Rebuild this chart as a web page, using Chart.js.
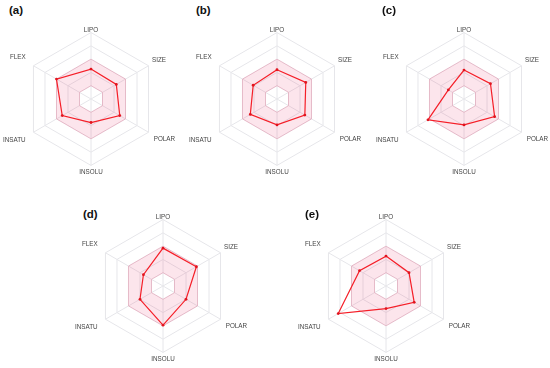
<!DOCTYPE html>
<html>
<head>
<meta charset="utf-8">
<script src="https://cdn.jsdelivr.net/npm/chart.js@4.4.1/dist/chart.umd.min.js"></script>
<style>
  html, body { margin: 0; padding: 0; background: #ffffff; }
  body { width: 550px; height: 368px; position: relative; overflow: hidden; }
  .panel { position: absolute; width: 200px; height: 154px; }
  .ttl { position: absolute; font: bold 11.5px "Liberation Sans", Arial, sans-serif; line-height: 1; color: #111; }
</style>
</head>
<body>
<script>
// ---- data ----
const axisLabels = ['LIPO', 'SIZE', 'POLAR', 'INSOLU', 'INSATU', 'FLEX'];
const panelTitles = ['(a)', '(b)', '(c)', '(d)', '(e)'];
const valuesA = [2.25, 2.2, 2.5, 1.77, 2.5, 3.0];
const valuesB = [2.2, 2.5, 2.42, 1.95, 2.32, 2.07];
const valuesC = [2.18, 2.3, 2.66, 1.95, 3.13, 1.36];
const valuesD = [2.85, 2.9, 2.0, 2.95, 2.0, 1.7];
const valuesE = [2.25, 2.0, 2.45, 1.7, 4.15, 2.3];
const optimalLower = [1, 1, 1, 1, 1, 1];
const optimalUpper = [3, 3, 3, 3, 3, 3];
const scaleMin = 0, scaleMax = 5, scaleStep = 1;

// ---- layout (chart centre = canvas left+100, top+75) ----
const labelPadding = [-1, 4, 6, 3, 9, 9];
const panels = [
  { values: valuesA, title: panelTitles[0], cx: 90.5, cy: 100, tx: 9, ty: 4.5 },
  { values: valuesB, title: panelTitles[1], cx: 277.3, cy: 100, tx: 196, ty: 4.5 },
  { values: valuesC, title: panelTitles[2], cx: 464, cy: 100, tx: 382, ty: 4.5 },
  { values: valuesD, title: panelTitles[3], cx: 163, cy: 286.5, tx: 83, ty: 209 },
  { values: valuesE, title: panelTitles[4], cx: 386.3, cy: 287, tx: 305, ty: 209 }
];

panels.forEach((p) => {
  const t = document.createElement('div');
  t.className = 'ttl';
  t.style.left = p.tx + 'px';
  t.style.top = p.ty + 'px';
  t.textContent = p.title;
  document.body.appendChild(t);

  const c = document.createElement('canvas');
  c.className = 'panel';
  c.width = 200; c.height = 154;
  c.style.left = (p.cx - 100) + 'px';
  c.style.top = (p.cy - 75) + 'px';
  document.body.appendChild(c);

  new Chart(c, {
    type: 'radar',
    data: {
      labels: axisLabels,
      datasets: [
        {
          data: p.values,
          borderColor: 'rgb(245,30,40)',
          borderWidth: 1.2,
          pointRadius: 1.4,
          pointBackgroundColor: 'rgb(225,20,30)',
          pointBorderWidth: 0,
          fill: false,
          order: 0
        },
        {
          data: optimalUpper,
          borderColor: 'rgba(230,0,60,0.15)',
          borderWidth: 1,
          backgroundColor: 'rgba(230,0,70,0.10)',
          pointRadius: 0,
          fill: '+1',
          order: 1
        },
        {
          data: optimalLower,
          borderColor: 'rgba(230,0,60,0.15)',
          borderWidth: 1,
          pointRadius: 0,
          fill: false,
          order: 2
        }
      ]
    },
    options: {
      responsive: false,
      animation: false,
      devicePixelRatio: 1,
      layout: { padding: 0 },
      plugins: { legend: { display: false }, tooltip: { enabled: false } },
      elements: { line: { tension: 0 } },
      scales: {
        r: {
          min: scaleMin,
          max: scaleMax,
          ticks: { display: false, stepSize: scaleStep },
          grid: { color: '#e6e6ea', lineWidth: 1 },
          angleLines: { color: '#e6e6ea', lineWidth: 1 },
          pointLabels: {
            color: '#444',
            padding: (ctx) => labelPadding[ctx.index],
            font: { family: '"Liberation Sans", Arial, sans-serif', size: 6.3 }
          }
        }
      }
    }
  });
});
</script>
</body>
</html>
